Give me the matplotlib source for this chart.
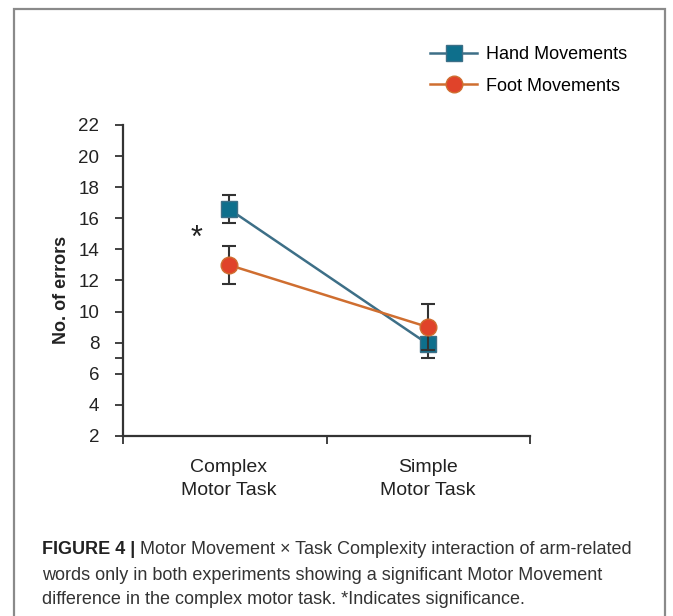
import matplotlib.pyplot as plt
from matplotlib.patches import Rectangle
from matplotlib.lines import Line2D

tasks = ['Complex\nMotor Task', 'Simple\nMotor Task']
hand_mean = [16.6, 7.9]
hand_err = [0.9, 0.9]
foot_mean = [13.0, 9.0]
foot_err = [1.2, 1.5]
y_ticks = [2, 4, 6, 8, 10, 12, 14, 16, 18, 20, 22]

plt.rcParams['font.family'] = ['Liberation Sans', 'DejaVu Sans']

hand_line, hand_face = '#3d6f87', '#0e6f8c'
foot_line, foot_face = '#cf6e30', '#e0432a'

fig = plt.figure(figsize=(6.73, 6.16), dpi=100)
# border round the whole figure panel (open at the bottom)
fig.patches.append(Rectangle((14 / 673, -0.05), 651 / 673, 1.05 - 9 / 616,
                             transform=fig.transFigure, fill=False,
                             edgecolor='#8a8a8a', linewidth=1.6))

ax = fig.add_axes([123 / 673, 1 - 436 / 616, 407 / 673, 311 / 616])
xs = [0.52, 1.5]

ax.errorbar(xs, hand_mean, yerr=hand_err, color=hand_line, linewidth=1.8,
            marker='s', markersize=11, markerfacecolor=hand_face,
            markeredgecolor=hand_line, ecolor='#333333', elinewidth=1.5,
            capsize=5, capthick=1.5, zorder=3)
ax.errorbar(xs, foot_mean, yerr=foot_err, color=foot_line, linewidth=1.8,
            marker='o', markersize=12, markerfacecolor=foot_face,
            markeredgecolor=foot_line, ecolor='#333333', elinewidth=1.5,
            capsize=5, capthick=1.5, zorder=4)

ax.text(0.36, 14.65, '*', fontsize=22, ha='center', va='center', color='#222222')

ax.set_xlim(0, 2)
ax.set_ylim(2, 22)
ax.set_yticks(y_ticks)
ax.set_yticks([7], minor=True)
ax.set_xticks([0, 1, 2])
ax.set_xticklabels([])
ax.tick_params(axis='both', direction='out', length=6, width=1.3,
               color='#333333', labelsize=13.5, labelcolor='#222222')
ax.tick_params(axis='y', pad=11)
ax.tick_params(axis='y', which='minor', length=6, width=1.3, color='#333333')
for side in ['top', 'right']:
    ax.spines[side].set_visible(False)
for side in ['left', 'bottom']:
    ax.spines[side].set_color('#333333')
    ax.spines[side].set_linewidth(1.6)
ax.set_ylabel('No. of errors', fontsize=13, fontweight='bold', color='#222222')
ax.yaxis.set_label_coords(-0.13, 0.47)

for x, name in zip(xs, tasks):
    ax.text(x, -0.075, name, transform=ax.get_xaxis_transform(), ha='center',
            va='top', fontsize=14, color='#222222', linespacing=1.45)

handles = [
    Line2D([], [], color=hand_line, linewidth=1.8, marker='s', markersize=11,
           markerfacecolor=hand_face, markeredgecolor=hand_line),
    Line2D([], [], color=foot_line, linewidth=1.8, marker='o', markersize=12,
           markerfacecolor=foot_face, markeredgecolor=foot_line),
]
fig.legend(handles, ['Hand Movements', 'Foot Movements'], loc='upper left',
           bbox_to_anchor=(414 / 673, 1 - 30 / 616), frameon=False,
           fontsize=13, handlelength=2.6, labelspacing=0.8, handletextpad=0.5)

cap_font = ['Liberation Sans Narrow', 'Liberation Sans']
bold = fig.text(42 / 673, 1 - 549 / 616, 'FIGURE 4 |', fontsize=13,
                fontweight='bold', va='center', ha='left', color='#222222',
                family=cap_font)
fig.canvas.draw()
bb = bold.get_window_extent(fig.canvas.get_renderer())
fig.text((bb.x1 + 5) / 673, 1 - 549 / 616,
         'Motor Movement \u00d7 Task Complexity interaction of arm-related',
         fontsize=13, va='center', ha='left', color='#333333', family=cap_font)
fig.text(42 / 673, 1 - 575 / 616,
         'words only in both experiments showing a significant Motor Movement',
         fontsize=13, va='center', ha='left', color='#333333', family=cap_font)
fig.text(42 / 673, 1 - 600 / 616,
         'difference in the complex motor task. *Indicates significance.',
         fontsize=13, va='center', ha='left', color='#333333', family=cap_font)

fig.savefig('out.png', dpi=100)
